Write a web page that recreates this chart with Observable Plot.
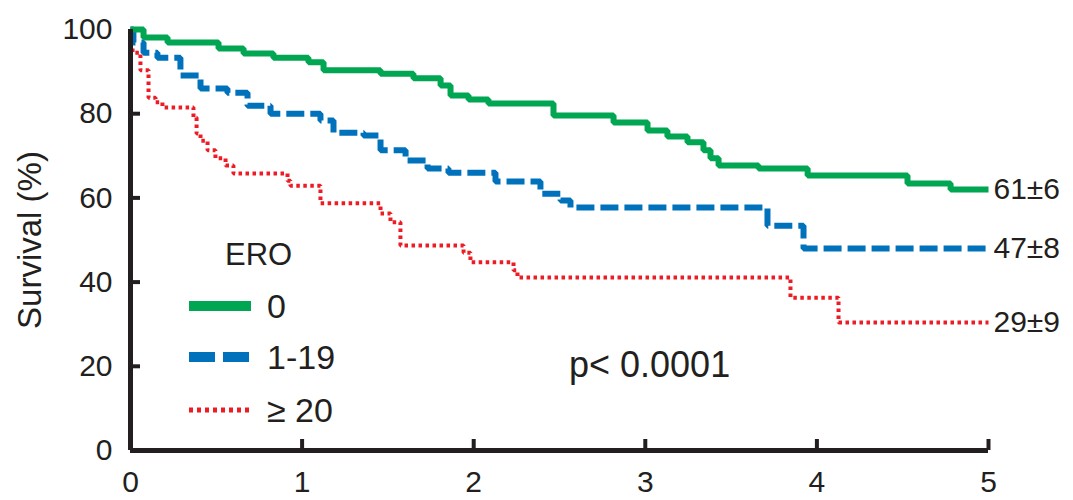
<!DOCTYPE html>
<html><head><meta charset="utf-8">
<script src="https://cdn.jsdelivr.net/npm/d3@7"></script>
<script src="https://cdn.jsdelivr.net/npm/@observablehq/plot@0.6"></script>
<style>
html,body{margin:0;padding:0;background:#fff;}
#wrap{position:relative;width:1073px;height:500px;overflow:hidden;background:#fff;}
#overlay{position:absolute;left:0;top:0;pointer-events:none;}
</style></head><body><div id="wrap"></div>
<script>
const FONT = '"Liberation Sans", Arial, sans-serif';
const INK = "#231f20";

// ---- data ----
const categories = ["0", "1-19", "≥ 20"];
const colors = ["#00a651", "#0072bc", "#ed1c24"];
const legendTitle = "ERO";
const endLabels = ["61±6", "47±8", "29±9"];
const pLabel = "p< 0.0001";
const yLabel = "Survival (%)";
const xTicks = [0, 1, 2, 3, 4, 5];
const yTicks = [0, 20, 40, 60, 80, 100];

const time0 = [0, 0.076, 0.216, 0.513, 0.659, 0.833, 1.037, 1.125, 1.457, 1.649, 1.807, 1.865, 1.970, 2.086, 2.465, 2.815, 3.013, 3.129, 3.246, 3.339, 3.380, 3.427, 3.660, 3.946, 4.528, 4.779, 5];
const surv0 = [100, 98.1, 96.9, 95.5, 94.3, 93.3, 92.2, 90.3, 89.5, 88.4, 86.7, 84.3, 83.4, 82.4, 79.6, 77.9, 76.0, 74.6, 73.2, 71.3, 69.4, 67.7, 67.0, 65.3, 63.4, 62.0, 62.0];

const time1 = [0, 0.017, 0.076, 0.157, 0.291, 0.408, 0.565, 0.682, 0.816, 1.107, 1.183, 1.358, 1.457, 1.603, 1.731, 1.853, 2.127, 2.389, 2.506, 2.564, 3.712, 3.922, 5];
const surv1 = [100, 96.9, 94.5, 93.3, 89.1, 86.0, 85.0, 81.9, 80.0, 78.4, 75.5, 74.8, 71.3, 68.9, 67.0, 66.0, 63.9, 61.0, 59.4, 57.7, 53.4, 48.0, 48.0];

const time2 = [0, 0.006, 0.012, 0.058, 0.105, 0.146, 0.186, 0.367, 0.385, 0.408, 0.449, 0.495, 0.554, 0.600, 0.915, 0.932, 1.107, 1.457, 1.515, 1.573, 1.941, 1.981, 2.232, 2.255, 3.846, 4.126, 5];
const surv2 = [100, 96.7, 94.5, 90.3, 83.8, 82.7, 81.5, 79.1, 75.3, 73.6, 71.3, 69.4, 67.7, 65.8, 64.1, 62.9, 58.7, 56.3, 54.2, 48.7, 47.0, 44.7, 42.8, 41.1, 36.3, 30.4, 30.4];

// ---- styles (separate from data) ----
const lineStyles = [
  {strokeWidth: 6, dash: null, legendWidth: 10, legendDash: null},
  {strokeWidth: 6, dash: "18,6", legendWidth: 10, legendDash: "26,8"},
  {strokeWidth: 4, dash: "3.5,3.5", legendWidth: 5, legendDash: "4,4"}
];

const times = [time0, time1, time2];
const survs = [surv0, surv1, surv2];
const series = categories.map((c, i) => times[i].map((t, j) => ({group: c, t, s: survs[i][j]})));
const ends = series.map((rows, i) => ({...rows[rows.length - 1], label: endLabels[i]}));

const lineMarks = [2, 1, 0].map(i => Plot.line(series[i], {
  x: "t", y: "s", curve: "step-after",
  stroke: colors[i], strokeWidth: lineStyles[i].strokeWidth,
  strokeDasharray: lineStyles[i].dash, strokeLinejoin: "miter", strokeLinecap: "butt"
}));

const chart = Plot.plot({
  width: 1073, height: 500,
  marginLeft: 130, marginRight: 85, marginTop: 29, marginBottom: 50,
  x: {domain: [0, 5]},
  y: {domain: [0, 100]},
  style: {fontFamily: FONT, color: INK, background: "white", overflow: "visible"},
  marks: [
    ...lineMarks,
    Plot.ruleX([0], {stroke: INK, strokeWidth: 5}),
    Plot.ruleY([0], {stroke: INK, strokeWidth: 5}),
    Plot.axisY(yTicks.slice(1, -1), {tickSize: -10, strokeWidth: 4, stroke: INK, tickFormat: () => "", label: null}),
    Plot.axisY(yTicks, {tickSize: 0, tickPadding: 18, fontSize: 30, fill: INK, tickFormat: d => String(d), label: null}),
    Plot.axisX(xTicks.slice(1), {tickSize: -11, strokeWidth: 4, stroke: INK, tickFormat: () => "", label: null}),
    Plot.axisX(xTicks, {tickSize: 0, tickPadding: 20, fontSize: 30, fill: INK, tickFormat: d => String(d), label: null}),
    Plot.text([yLabel], {frameAnchor: "left", textAnchor: "middle", rotate: -90, dx: -100, fontSize: 33, fill: INK, letterSpacing: 1.5}),
    Plot.text(ends, {x: "t", y: "s", text: "label", textAnchor: "start", dx: 5, fontSize: 30, fill: INK})
  ]
});

const wrap = document.getElementById("wrap");
wrap.appendChild(chart);

// ---- legend & annotation overlay ----
const ov = d3.select(wrap).append("svg").attr("id", "overlay")
  .attr("width", 1073).attr("height", 500)
  .style("font-family", FONT).style("fill", INK);

ov.append("text").attr("x", 225).attr("y", 265).attr("font-size", 31).text(legendTitle);
const rowY = [306, 357, 410];
categories.forEach((c, i) => {
  ov.append("line").attr("x1", 189).attr("x2", 251).attr("y1", rowY[i]).attr("y2", rowY[i])
    .attr("stroke", colors[i]).attr("stroke-width", lineStyles[i].legendWidth)
    .attr("stroke-dasharray", lineStyles[i].legendDash);
  ov.append("text").attr("x", 267).attr("y", rowY[i] + 12).attr("font-size", 34).text(c);
});
ov.append("text").attr("x", 569).attr("y", 377).attr("font-size", 36).text(pLabel);
</script></body></html>
